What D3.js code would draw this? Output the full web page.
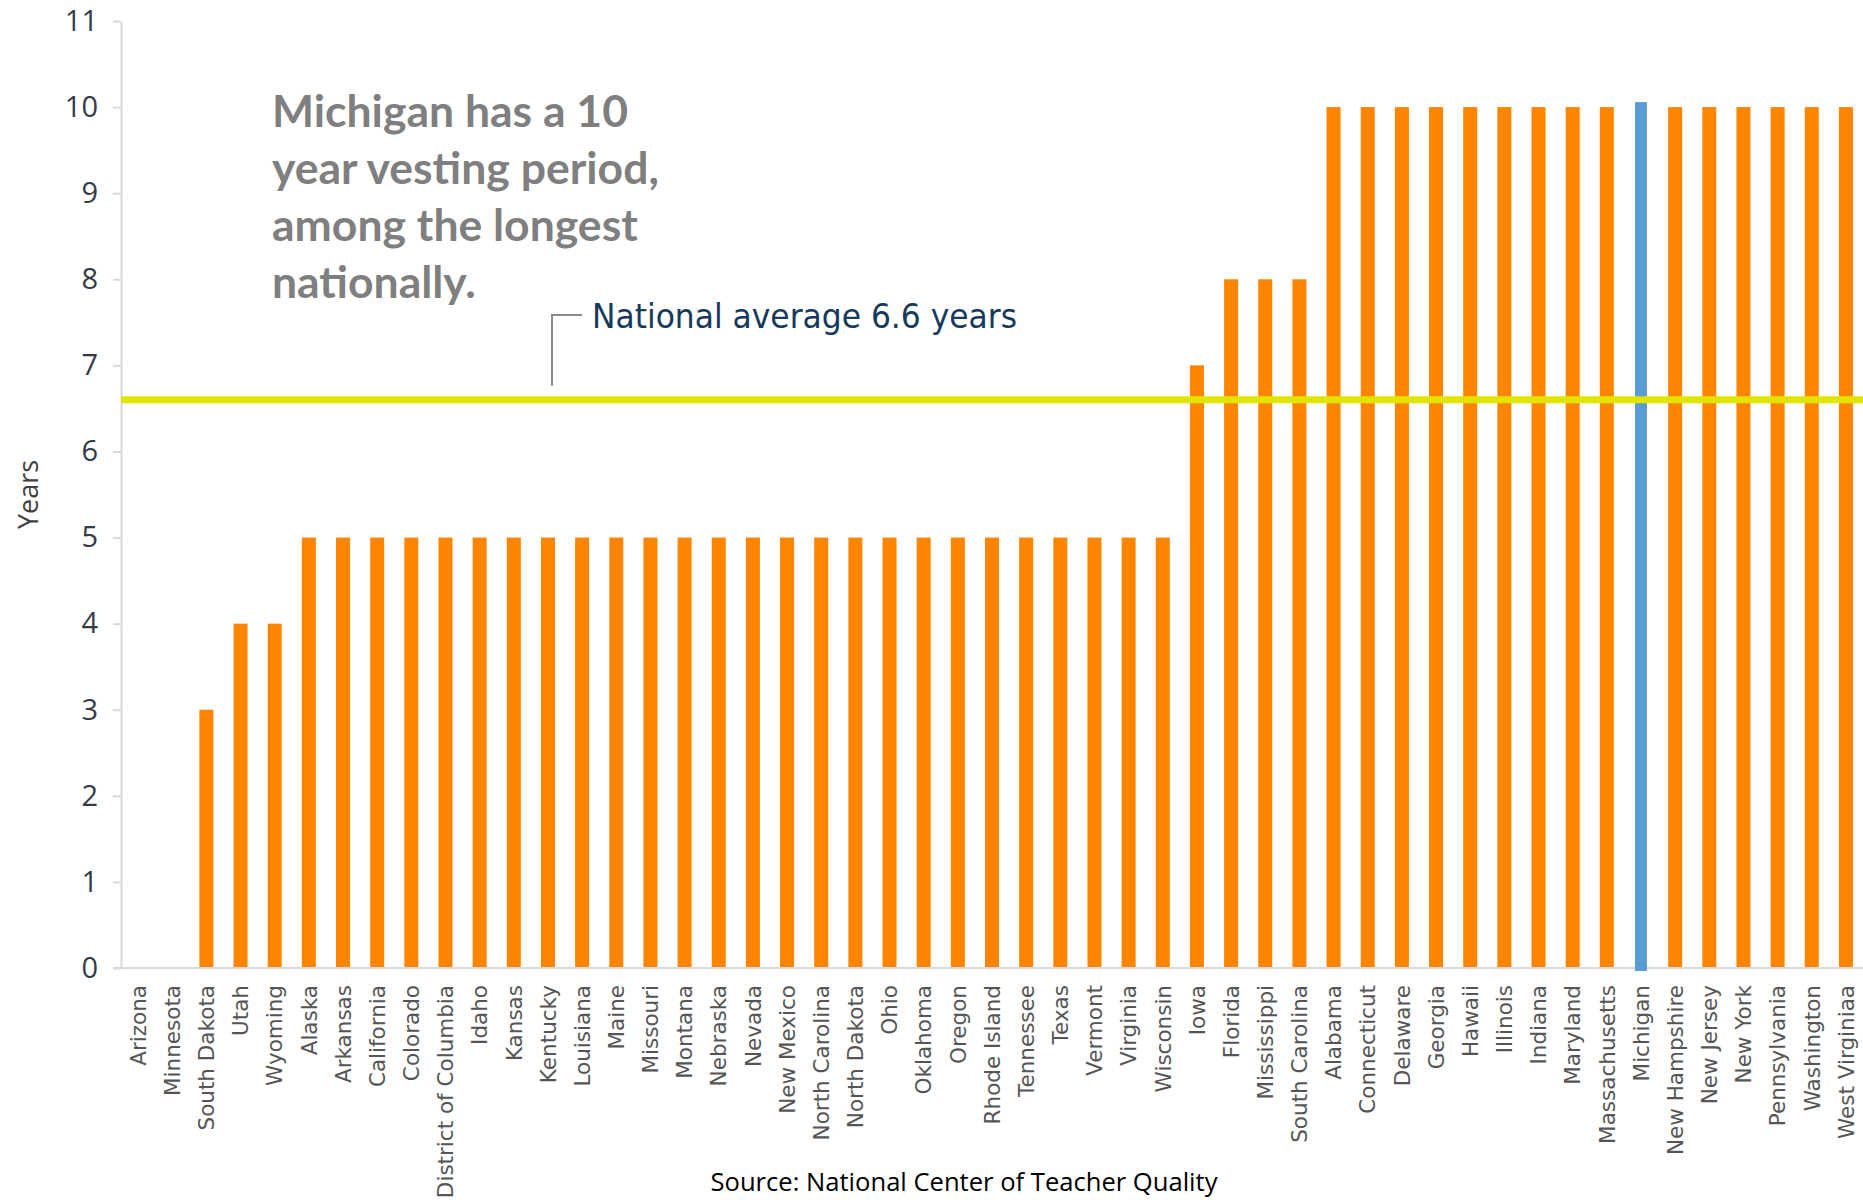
<!DOCTYPE html>
<html>
<head>
<meta charset="utf-8">
<script src="https://cdn.jsdelivr.net/npm/d3@7"></script>
<style>
    body { margin: 0; background: #fff; }
    #body { width: 1863px; height: 1200px; }
    .y.axis text { font-family: 'Open Sans', sans-serif; font-size: 29px; fill: #353a47; }
    .x.axis text { font-family: 'DejaVu Sans', sans-serif; font-size: 21.5px; fill: #555; }
    .axis path, .axis line { stroke: #d9d9d9; stroke-width: 2; }
</style>
</head>
<body>
<div id="body"></div>
<script>
// data
var states = ['Arizona', 'Minnesota', 'South Dakota', 'Utah', 'Wyoming', 'Alaska', 'Arkansas', 'California', 'Colorado',
    'District of Columbia', 'Idaho', 'Kansas', 'Kentucky', 'Louisiana', 'Maine', 'Missouri', 'Montana', 'Nebraska',
    'Nevada', 'New Mexico', 'North Carolina', 'North Dakota', 'Ohio', 'Oklahoma', 'Oregon', 'Rhode Island', 'Tennessee',
    'Texas', 'Vermont', 'Virginia', 'Wisconsin', 'Iowa', 'Florida', 'Mississippi', 'South Carolina', 'Alabama',
    'Connecticut', 'Delaware', 'Georgia', 'Hawaii', 'Illinois', 'Indiana', 'Maryland', 'Massachusetts', 'Michigan',
    'New Hampshire', 'New Jersey', 'New York', 'Pennsylvania', 'Washington', 'West Virginiaa'];
var years = [0, 0, 3, 4, 4, 5, 5, 5, 5,
    5, 5, 5, 5, 5, 5, 5, 5, 5,
    5, 5, 5, 5, 5, 5, 5, 5, 5,
    5, 5, 5, 5, 7, 8, 8, 8, 10,
    10, 10, 10, 10, 10, 10, 10, 10, 10,
    10, 10, 10, 10, 10, 10];
var yTicks = [0, 1, 2, 3, 4, 5, 6, 7, 8, 9, 10, 11];
var nationalAverage = 6.6;
var highlight = 'Michigan';
var averageLabel = 'National average 6.6 years';
var noteLines = ['Michigan has a 10', 'year vesting period,', 'among the longest', 'nationally.'];
var sourceText = 'Source: National Center of Teacher Quality';

var width = 1863, height = 1200;
var margins = {left: 121, right: 0, top: 21, bottom: 232};

var svg = d3.select('#body').append('svg')
    .attr('width', width)
    .attr('height', height);

var scaleX = d3.scaleBand()
    .domain(states)
    .range([margins.left, width - margins.right])
    .paddingInner(0.59)
    .paddingOuter(0.295);
var scaleY = d3.scaleLinear()
    .domain([0, 11])
    .range([height - margins.bottom, margins.top]);

// y axis
svg.append('g')
    .attr('class', 'y axis')
    .attr('transform', `translate(${margins.left},0)`)
    .call(d3.axisLeft(scaleY).tickValues(yTicks).tickSize(8).tickSizeOuter(0).tickPadding(15));

svg.append('text')
    .attr('transform', `translate(38,${(scaleY(5.5))}) rotate(-90)`)
    .attr('text-anchor', 'middle')
    .style('font-family', "'Open Sans', sans-serif")
    .style('font-size', '27px')
    .style('fill', '#404040')
    .text('Years');

// bars
var data = states.map((s, i) => ({state: s, value: years[i]}));
svg.append('g').selectAll('rect.bar')
    .data(data.filter(d => d.state !== highlight))
    .enter()
    .append('rect')
    .attr('class', 'bar')
    .attr('x', d => scaleX(d.state))
    .attr('y', d => scaleY(d.value))
    .attr('width', scaleX.bandwidth())
    .attr('height', d => scaleY(0) - scaleY(d.value))
    .attr('fill', '#ff8500');

// x axis
var xAxis = svg.append('g')
    .attr('class', 'x axis')
    .attr('transform', `translate(0,${scaleY(0)})`)
    .call(d3.axisBottom(scaleX).tickSize(0).tickSizeOuter(0).tickPadding(0));
xAxis.select('.domain').attr('d', `M${margins.left - 8},0H${width}`);
xAxis.selectAll('text')
    .attr('transform', 'rotate(-90)')
    .attr('text-anchor', 'end')
    .attr('x', -17)
    .attr('y', 0)
    .attr('dy', '0.36em');

// highlighted state
var hl = data.find(d => d.state === highlight);
var hlWidth = scaleX.bandwidth() * 0.85;
svg.append('rect')
    .attr('x', scaleX(hl.state) + (scaleX.bandwidth() - hlWidth) / 2)
    .attr('y', scaleY(hl.value) - 5)
    .attr('width', hlWidth)
    .attr('height', scaleY(0) - scaleY(hl.value) + 8)
    .attr('fill', '#5b9bd5');

// national average
var avgY = scaleY(nationalAverage);
svg.append('line')
    .attr('x1', margins.left)
    .attr('x2', width)
    .attr('y1', avgY)
    .attr('y2', avgY)
    .attr('stroke', '#e1e400')
    .attr('stroke-width', 7);

svg.append('path')
    .attr('d', `M552,${avgY - 14}V315H582`)
    .attr('fill', 'none')
    .attr('stroke', '#8a8a8a')
    .attr('stroke-width', 2);

svg.append('text')
    .attr('x', 592)
    .attr('y', 328)
    .attr('textLength', 425)
    .attr('lengthAdjust', 'spacingAndGlyphs')
    .style('font-family', "'Liberation Sans Narrow', 'DejaVu Sans Condensed', 'Liberation Sans', sans-serif")
    .style('font-size', '34px')
    .style('fill', '#17395c')
    .text(averageLabel);

// annotation
svg.append('g').selectAll('text')
    .data(noteLines)
    .enter()
    .append('text')
    .attr('x', 272)
    .attr('y', (d, i) => 127 + i * 57)
    .style('font-family', 'Lato, sans-serif')
    .style('font-weight', 'bold')
    .style('font-size', '44.5px')
    .style('fill', '#7f7f7f')
    .text(d => d);

// source
svg.append('text')
    .attr('x', 964)
    .attr('y', 1191)
    .attr('text-anchor', 'middle')
    .attr('textLength', 507)
    .attr('lengthAdjust', 'spacingAndGlyphs')
    .style('font-family', "'Open Sans', sans-serif")
    .style('font-size', '25px')
    .style('fill', '#000')
    .text(sourceText);
</script>
</body>
</html>
